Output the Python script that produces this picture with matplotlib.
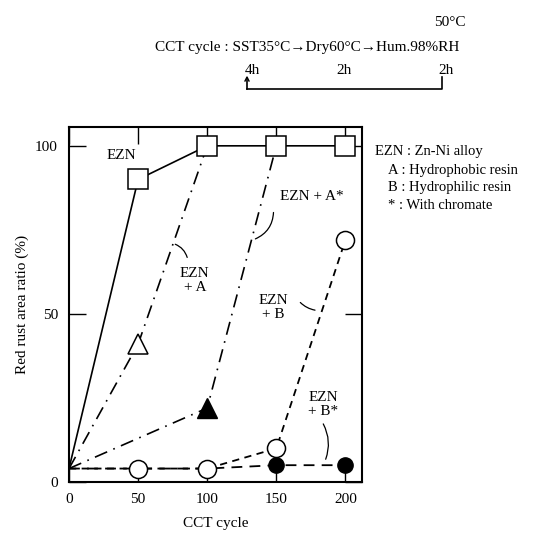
import matplotlib
matplotlib.use("Agg")
import matplotlib.pyplot as plt
from matplotlib.lines import Line2D

plt.rcParams['font.family'] = ['Liberation Serif', 'DejaVu Serif']

W, H = 559, 536
cycles = [0, 50, 100, 150, 200]
ezn = [4, 90, 100, 100, 100]
ezn_a_x = [0, 50, 100]
ezn_a = [4, 41, 100]
ezn_as_x = [0, 100, 150]
ezn_as = [4, 22, 100]
ezn_b = [4, 4, 4, 10, 72]
ezn_bs = [4, 4, 4, 5, 5]
xticks = [0, 50, 100, 150, 200]
yticks = [0, 50, 100]

fig = plt.figure(figsize=(W / 100, H / 100), dpi=100)
ax = fig.add_axes([69 / W, 1 - 482 / H, (362 - 69) / W, (482 - 127) / H])
ax.set_xlim(0, 212)
ax.set_ylim(0, 105.6)

ms = 13
# EZN+B* (behind)
ax.plot(cycles, ezn_bs, color='black', lw=1.3, ls=(0, (6, 4)), marker='o', ms=11,
        mfc='black', mec='black', markevery=[3, 4], zorder=2)
# EZN+B
ax.plot(cycles, ezn_b, color='black', lw=1.3, ls=(0, (4, 3)), marker='o', ms=ms,
        mfc='white', mec='black', mew=1.1, markevery=[1, 2, 3, 4], zorder=3)
# EZN+A
ax.plot(ezn_a_x, ezn_a, color='black', lw=1.2, ls=(0, (8, 4, 1, 4)), zorder=2)
ax.plot(ezn_a_x[1:2], ezn_a[1:2], ls='none', marker='^', ms=14, mfc='white', mec='black', mew=1.1, zorder=4)
# EZN+A*
ax.plot(ezn_as_x, ezn_as, color='black', lw=1.2, ls=(0, (8, 4, 1, 4)), zorder=2)
ax.plot(ezn_as_x[1:2], ezn_as[1:2], ls='none', marker='^', ms=14, mfc='black', mec='black', zorder=4)
# EZN
ax.plot(cycles, ezn, color='black', lw=1.2, ls='-', zorder=2)
ax.plot(cycles[1:], ezn[1:], ls='none', marker='s', ms=14, mfc='white', mec='black', mew=1.1, zorder=4)

ax.set_xticks(xticks)
ax.set_yticks(yticks)
ax.set_xticklabels([str(v) for v in xticks], fontsize=11)
ax.set_yticklabels([str(v) for v in yticks], fontsize=11)
ax.tick_params(direction='in', length=12, width=1, top=True, right=True, pad=8)
for s in ax.spines.values():
    s.set_linewidth(1.5)

ax.set_xlabel('CCT cycle', fontsize=11, labelpad=8)
ax.set_ylabel('Red rust area ratio (%)', fontsize=11, labelpad=4)

fs = 11
ax.text(38, 97, 'EZN', ha='center', va='center', fontsize=fs)
ax.text(91, 60, 'EZN\n+ A', ha='center', va='center', fontsize=fs, linespacing=1.1)
ax.text(176, 85, 'EZN + A*', ha='center', va='center', fontsize=fs)
ax.text(148, 52, 'EZN\n+ B', ha='center', va='center', fontsize=fs, linespacing=1.1)
ax.text(184, 23, 'EZN\n+ B*', ha='center', va='center', fontsize=fs, linespacing=1.1)

lk = dict(arrowstyle='-', color='black', lw=0.9)
ax.annotate('', xy=(75, 71), xytext=(86, 66), arrowprops=dict(connectionstyle='arc3,rad=0.3', **lk))
ax.annotate('', xy=(133, 72), xytext=(148, 81), arrowprops=dict(connectionstyle='arc3,rad=-0.35', **lk))
ax.annotate('', xy=(180, 51), xytext=(166, 54), arrowprops=dict(connectionstyle='arc3,rad=0.2', **lk))
ax.annotate('', xy=(185, 6), xytext=(183, 18), arrowprops=dict(connectionstyle='arc3,rad=-0.25', **lk))

# header
def fx(x):
    return x / W

def fy(y):
    return 1 - y / H

fig.text(fx(307), fy(48), 'CCT cycle : SST35°C→Dry60°C→Hum.98%RH', ha='center', va='center', fontsize=11)
fig.text(fx(450), fy(22), '50°C', ha='center', va='center', fontsize=11)
fig.text(fx(252), fy(70), '4h', ha='center', va='center', fontsize=11)
fig.text(fx(344), fy(70), '2h', ha='center', va='center', fontsize=11)
fig.text(fx(446), fy(70), '2h', ha='center', va='center', fontsize=11)
fig.add_artist(Line2D([fx(442), fx(442), fx(247)], [fy(77), fy(89), fy(89)], color='black', lw=1.2))
fig.add_artist(Line2D([fx(247), fx(247)], [fy(89), fy(78)], color='black', lw=1.2))
fig.add_artist(Line2D([fx(245), fx(247), fx(249)], [fy(81), fy(77), fy(81)], color='black', lw=1.0))

# legend text
fig.text(fx(375), fy(152), 'EZN : Zn-Ni alloy', ha='left', va='center', fontsize=10.5)
fig.text(fx(388), fy(170), 'A : Hydrophobic resin', ha='left', va='center', fontsize=10.5)
fig.text(fx(388), fy(188), 'B : Hydrophilic resin', ha='left', va='center', fontsize=10.5)
fig.text(fx(388), fy(206), '* : With chromate', ha='left', va='center', fontsize=10.5)

fig.savefig('out.png', dpi=100)
